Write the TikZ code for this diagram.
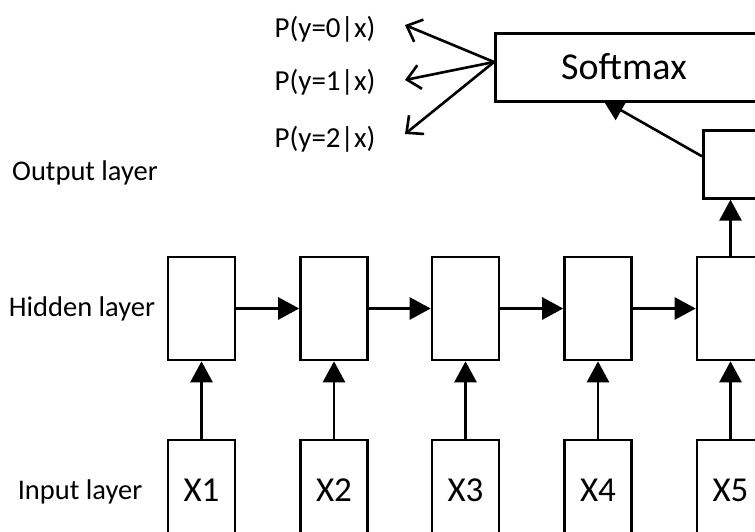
\documentclass[tikz,border=0pt]{standalone}
\usepackage{fontspec}
\setmainfont{Carlito}
\usetikzlibrary{arrows.meta,positioning}
\tikzset{
  cell/.style={draw, line width=2.6pt, minimum width=67pt, minimum height=103pt, inner sep=0pt, fill=white},
  lab/.style={font=\fontsize{28.5}{30}\selectfont, inner sep=0pt},
  prob/.style={font=\fontsize{29}{31}\selectfont, inner sep=0pt},
  xin/.style={font=\fontsize{35}{37}\selectfont},
  link/.style={line width=2.6pt, -{Triangle[length=21pt, width=22pt]}},
  fan/.style={line width=2.6pt, -{Straight Barb[length=13pt, width=24pt, line width=2.6pt]}},
}
\begin{document}
\begin{tikzpicture}[x=1pt, y=-1pt]
\useasboundingbox (0,0) rectangle (755,531);
\clip (0,0) rectangle (755,531);
\fill[white] (0,0) rectangle (755,531);

% layer names
\node[lab] (lout) at (85,173) {Output layer};
\node[lab] (lhid) at (82,309) {Hidden layer};
\node[lab] (lin)  at (80,492) {Input layer};

% hidden and input cells
\foreach \i/\x in {1/201.5, 2/334, 3/465.5, 4/598, 5/730.5} {
  \node[cell] (h\i) at (\x,308.5) {};
  \node[cell, xin] (x\i) at (\x,491.5) {};
  \node[xin, inner sep=0pt] (t\i) at (\x,490) {X\i};
}

% output cell and softmax box
\node[cell, minimum height=68pt, anchor=north west] (out) at (702,129) {};
\node[cell, minimum width=300pt, minimum height=68pt, anchor=north west] (sm) at (494,32) {};
\node[font=\fontsize{38}{40}\selectfont, inner sep=0pt] (smt) at (624,67) {Softmax};

% class probabilities
\node[prob] (p0) at (325,29) {P(y=0|x)};
\node[prob] (p1) at (325,82) {P(y=1|x)};
\node[prob] (p2) at (325,139) {P(y=2|x)};

\coordinate (fan) at (494,62);
\coordinate (t0) at (405,25);
\coordinate (t1) at (405,80);
\coordinate (t2) at (405,134);
\draw[fan] (fan) -- (t0);
\draw[fan] (fan) -- (t1);
\draw[fan] (fan) -- (t2);

% connectors
\foreach \i in {1,...,5} { \draw[link] (x\i.north) -- (h\i.south); }
\foreach \i/\j in {1/2, 2/3, 3/4, 4/5} { \draw[link] (h\i.east) -- (h\j.west); }
\draw[link] (h5.north) -- (h5.north |- out.south);
\coordinate (smin) at (603,100);
\draw[link] ([yshift=8pt]out.west) -- (smin);
\end{tikzpicture}
\end{document}
